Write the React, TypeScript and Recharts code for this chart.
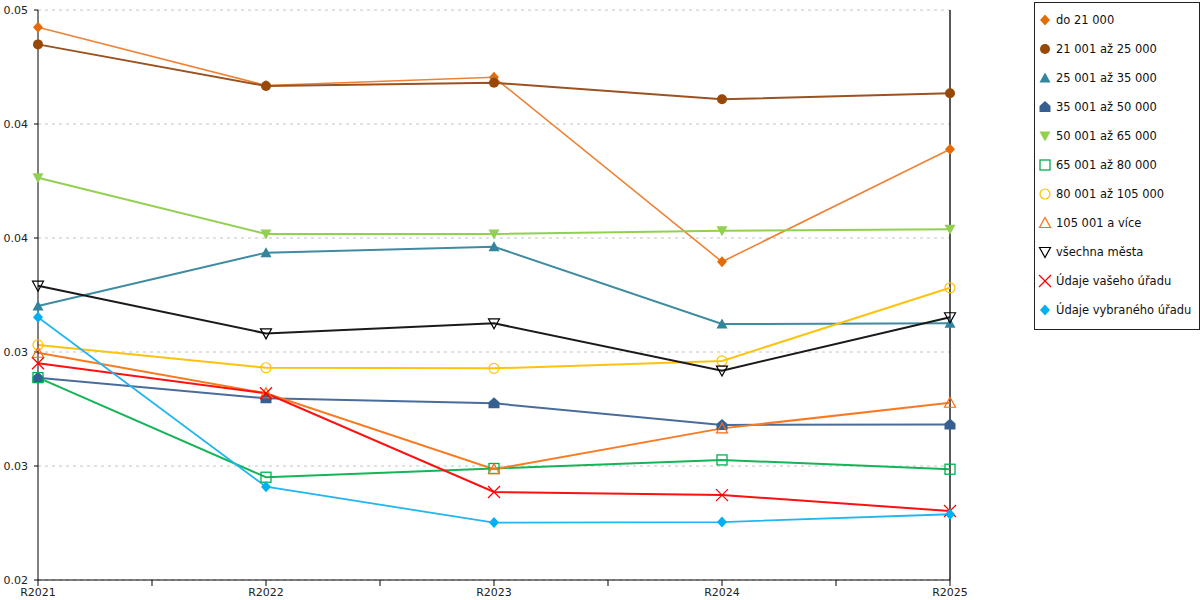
import {
  CartesianGrid,
  Legend,
  Line,
  LineChart,
  ReferenceLine,
  XAxis,
  YAxis,
} from "recharts";

const years = ["R2021", "R2022", "R2023", "R2024", "R2025"];
const xTicks = [0, 0.5, 1, 1.5, 2, 2.5, 3, 3.5, 4];
const yTicks = [0.02, 0.026, 0.032, 0.038, 0.044, 0.05];

const do21000 = [0.04909, 0.04603, 0.04646, 0.03675, 0.04267];
const od21do25 = [0.04819, 0.046, 0.04617, 0.0453, 0.04562];
const od25do35 = [0.03442, 0.03723, 0.03754, 0.03347, 0.03351];
const od35do50 = [0.03065, 0.02956, 0.0293, 0.02816, 0.02819];
const od50do65 = [0.04117, 0.03821, 0.03821, 0.03838, 0.03846];
const od65do80 = [0.03065, 0.02541, 0.02587, 0.02632, 0.02583];
const od80do105 = [0.03237, 0.03117, 0.03114, 0.03153, 0.03538];
const od105 = [0.03196, 0.02983, 0.02583, 0.02798, 0.02933];
const vsechnaMesta = [0.03549, 0.03298, 0.03351, 0.03102, 0.03383];
const vasUrad = [0.03141, 0.02983, 0.02463, 0.02447, 0.02363];
const vybranyUrad = [0.03383, 0.02491, 0.02302, 0.02305, 0.02346];

type Shape =
  | "diamond"
  | "circle"
  | "triUp"
  | "house"
  | "triDown"
  | "square"
  | "ring"
  | "triUpOpen"
  | "triDownOpen"
  | "cross";

type Series = {
  key: string;
  name: string;
  values: number[];
  color: string;
  line: string;
  shape: Shape;
  width: number;
};

const series: Series[] = [
  { key: "s0", name: "do 21 000", values: do21000, color: "#E36C09", line: "#EE8236", shape: "diamond", width: 1.6 },
  { key: "s1", name: "21 001 až 25 000", values: od21do25, color: "#974706", line: "#9B5220", shape: "circle", width: 2 },
  { key: "s2", name: "25 001 až 35 000", values: od25do35, color: "#31859C", line: "#3F8CA2", shape: "triUp", width: 2 },
  { key: "s3", name: "35 001 až 50 000", values: od35do50, color: "#366092", line: "#4A6C9B", shape: "house", width: 2 },
  { key: "s4", name: "50 001 až 65 000", values: od50do65, color: "#92D050", line: "#92D050", shape: "triDown", width: 2 },
  { key: "s5", name: "65 001 až 80 000", values: od65do80, color: "#00B050", line: "#14B458", shape: "square", width: 2 },
  { key: "s6", name: "80 001 až 105 000", values: od80do105, color: "#FFC000", line: "#FFC20E", shape: "ring", width: 2 },
  { key: "s7", name: "105 001 a více", values: od105, color: "#FF6A10", line: "#FA7A22", shape: "triUpOpen", width: 2 },
  { key: "s8", name: "všechna města", values: vsechnaMesta, color: "#000000", line: "#1A1A1A", shape: "triDownOpen", width: 2 },
  { key: "s9", name: "Údaje vašeho úřadu", values: vasUrad, color: "#FF0000", line: "#FF1010", shape: "cross", width: 2 },
  { key: "s10", name: "Údaje vybraného úřadu", values: vybranyUrad, color: "#00B0F0", line: "#22B6F0", shape: "diamond", width: 1.8 },
];

const data = years.map((label, i) => {
  const row: Record<string, number | string> = { x: i, label };
  series.forEach((s) => {
    row[s.key] = s.values[i];
  });
  return row;
});

function Marker({ shape, cx, cy, color }: { shape: Shape; cx: number; cy: number; color: string }) {
  switch (shape) {
    case "diamond":
      return <polygon points={`${cx},${cy - 5.5} ${cx + 5},${cy} ${cx},${cy + 5.5} ${cx - 5},${cy}`} fill={color} />;
    case "circle":
      return <circle cx={cx} cy={cy} r={5} fill={color} />;
    case "triUp":
      return <polygon points={`${cx},${cy - 5.5} ${cx + 5.5},${cy + 4.5} ${cx - 5.5},${cy + 4.5}`} fill={color} />;
    case "house":
      return (
        <polygon
          points={`${cx},${cy - 6} ${cx + 5.5},${cy - 1} ${cx + 5.5},${cy + 5} ${cx - 5.5},${cy + 5} ${cx - 5.5},${cy - 1}`}
          fill={color}
        />
      );
    case "triDown":
      return <polygon points={`${cx - 5.5},${cy - 4.5} ${cx + 5.5},${cy - 4.5} ${cx},${cy + 5.5}`} fill={color} />;
    case "square":
      return <rect x={cx - 5} y={cy - 5} width={10} height={10} fill="none" stroke={color} strokeWidth={1.3} />;
    case "ring":
      return <circle cx={cx} cy={cy} r={5} fill="none" stroke={color} strokeWidth={1.2} />;
    case "triUpOpen":
      return (
        <polygon
          points={`${cx},${cy - 5.5} ${cx + 5.5},${cy + 4.5} ${cx - 5.5},${cy + 4.5}`}
          fill="none"
          stroke={color}
          strokeWidth={1.2}
        />
      );
    case "triDownOpen":
      return (
        <polygon
          points={`${cx - 5.5},${cy - 4.5} ${cx + 5.5},${cy - 4.5} ${cx},${cy + 5.5}`}
          fill="none"
          stroke={color}
          strokeWidth={1.2}
        />
      );
    case "cross":
      return (
        <g stroke={color} strokeWidth={1.2}>
          <line x1={cx - 6} y1={cy - 6} x2={cx + 6} y2={cy + 6} />
          <line x1={cx - 6} y1={cy + 6} x2={cx + 6} y2={cy - 6} />
        </g>
      );
  }
  return null;
}

function renderLegend() {
  return (
    <div
      style={{
        boxSizing: "border-box",
        width: 166,
        height: 328,
        border: "1px solid #222",
        padding: "2px 0 0 3px",
        fontFamily: "DejaVu Sans, Verdana, sans-serif",
        fontSize: 11.5,
        color: "#111",
        background: "#fff",
      }}
    >
      {series.map((s) => (
        <div key={s.key} style={{ display: "flex", alignItems: "center", height: 29.1 }}>
          <svg width={14} height={14} style={{ marginRight: 4 }}>
            <Marker shape={s.shape} cx={7} cy={7} color={s.color} />
          </svg>
          <span>{s.name}</span>
        </div>
      ))}
    </div>
  );
}

export default function App() {
  return (
    <div style={{ position: "absolute", left: 0, top: 0, width: 1200, height: 600, background: "#fff" }}>
      <LineChart
        width={1200}
        height={600}
        data={data}
        margin={{ top: 10, right: 250, bottom: 0, left: 0 }}
        style={{ fontFamily: "DejaVu Sans, Verdana, sans-serif" }}
      >
        <CartesianGrid vertical={false} stroke="#c4c4c4" strokeDasharray="3 4" />
        <XAxis
          dataKey="x"
          type="number"
          domain={[0, 4]}
          ticks={xTicks}
          interval={0}
          height={20}
          tickSize={6}
          tickFormatter={(v: number) => (Number.isInteger(v) ? years[v] : "")}
          tick={{ fill: "#222", fontSize: 11 }}
          axisLine={{ stroke: "#000" }}
          tickLine={{ stroke: "#000" }}
        />
        <YAxis
          type="number"
          domain={[0.02, 0.05]}
          ticks={yTicks}
          interval={0}
          width={38}
          tickSize={4}
          tickMargin={6}
          tickFormatter={(v: number) => v.toFixed(2)}
          tick={{ fill: "#222", fontSize: 11 }}
          axisLine={{ stroke: "#000" }}
          tickLine={{ stroke: "#000" }}
        />
        <ReferenceLine x={4} stroke="#000" strokeWidth={1.3} />
        {series.map((s) => (
          <Line
            key={s.key}
            type="linear"
            dataKey={s.key}
            name={s.name}
            stroke={s.line}
            strokeWidth={s.width}
            isAnimationActive={false}
            activeDot={false}
            dot={(p: any) => <Marker key={`${s.key}-${p.index}`} shape={s.shape} cx={p.cx} cy={p.cy} color={s.color} />}
          />
        ))}
        <Legend
          layout="vertical"
          align="center"
          verticalAlign="middle"
          content={renderLegend}
          wrapperStyle={{ left: 1034, top: 2, width: 166, height: 328 }}
        />
      </LineChart>
    </div>
  );
}
